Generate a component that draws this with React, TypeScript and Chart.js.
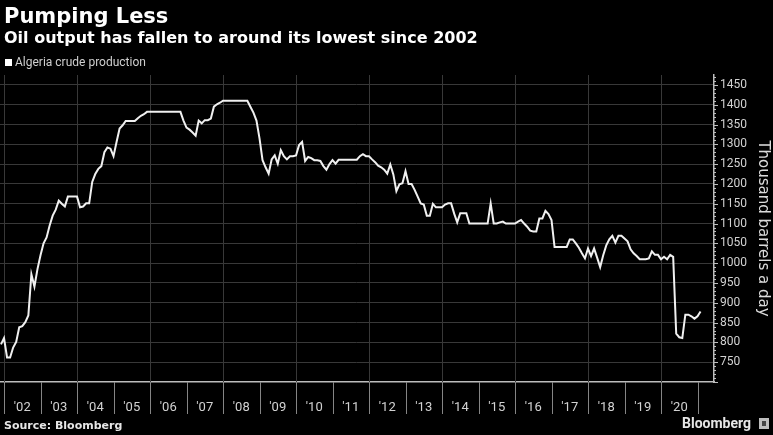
import React, { useEffect, useRef } from "react";
import { Chart, registerables } from "chart.js";

Chart.register(...registerables);

const TITLE = "Pumping Less";
const SUBTITLE = "Oil output has fallen to around its lowest since 2002";
const SERIES_NAME = "Algeria crude production";
const Y_TITLE = "Thousand barrels a day";
const SOURCE = "Source: Bloomberg";
const BRAND = "Bloomberg";

// first monthly observation: December 2001
const FIRST_YEAR = 2001;
const FIRST_MONTH = 12;

// monthly Algerian crude production, thousand barrels a day
const production = [
  795, // Dec 2001
  811, 762, 762, 787, 801, 838, 841, 851, 868, 972, 941, 985, // 2002
  1020, 1050, 1065, 1095, 1120, 1135, 1158, 1150, 1143, 1168, 1168, 1168, // 2003
  1168, 1141, 1143, 1151, 1151, 1205, 1225, 1238, 1245, 1280, 1292, 1289, // 2004
  1270, 1306, 1340, 1348, 1359, 1359, 1359, 1359, 1366, 1372, 1376, 1382, // 2005
  1382, 1382, 1382, 1382, 1382, 1382, 1382, 1382, 1382, 1382, 1382, 1360, // 2006
  1342, 1337, 1330, 1322, 1360, 1353, 1361, 1361, 1365, 1395, 1401, 1405, // 2007
  1410, 1410, 1410, 1410, 1410, 1410, 1410, 1410, 1410, 1395, 1380, 1360, // 2008
  1315, 1260, 1242, 1226, 1262, 1272, 1251, 1285, 1270, 1262, 1270, 1270, // 2009
  1272, 1298, 1306, 1258, 1268, 1265, 1260, 1260, 1258, 1245, 1236, 1250, // 2010
  1260, 1251, 1261, 1261, 1261, 1261, 1261, 1261, 1261, 1270, 1275, 1270, // 2011
  1270, 1262, 1255, 1246, 1242, 1236, 1226, 1249, 1224, 1182, 1199, 1202, // 2012
  1232, 1200, 1200, 1185, 1168, 1151, 1148, 1120, 1120, 1150, 1141, 1141, // 2013
  1141, 1148, 1151, 1151, 1125, 1103, 1126, 1126, 1126, 1100, 1100, 1100, // 2014
  1100, 1100, 1100, 1100, 1151, 1100, 1100, 1103, 1105, 1100, 1100, 1100, // 2015
  1100, 1105, 1109, 1100, 1092, 1082, 1080, 1080, 1113, 1113, 1132, 1124, // 2016
  1109, 1041, 1041, 1041, 1041, 1041, 1060, 1060, 1050, 1039, 1025, 1012, // 2017
  1037, 1018, 1037, 1014, 990, 1020, 1045, 1060, 1069, 1052, 1069, 1069, // 2018
  1062, 1055, 1035, 1025, 1018, 1010, 1010, 1010, 1012, 1030, 1021, 1021, // 2019
  1010, 1016, 1010, 1021, 1016, 822, 813, 811, 870, 870, 866, 860, // 2020
  866, 878, // 2021
];

const yearLabels = [
  2002, 2003, 2004, 2005, 2006, 2007, 2008, 2009, 2010, 2011,
  2012, 2013, 2014, 2015, 2016, 2017, 2018, 2019, 2020,
];
const yearSeparators = [
  2002, 2003, 2004, 2005, 2006, 2007, 2008, 2009, 2010, 2011,
  2012, 2013, 2014, 2015, 2016, 2017, 2018, 2019, 2020, 2021,
];
const gridYears = [2002, 2004, 2006, 2008, 2010, 2012, 2014, 2016, 2018, 2020];

const X_MIN = 2001.89;
const X_MAX = 2021.452;
const Y_MIN = 700;
const Y_MAX = 1475;
const Y_STEP = 50;
const Y_MINOR_STEP = 10;

const BG = "#000000";
const LINE = "#f0f0f0";
const GRID = "#383838";
const AXIS = "#bdbdbd";
const LABEL = "#d2d2d2";

const decorPlugin = {
  id: "decor",
  beforeDraw(chart: any) {
    const { ctx, width, height } = chart;
    ctx.save();
    ctx.fillStyle = BG;
    ctx.fillRect(0, 0, width, height);
    ctx.restore();
  },
  beforeDatasetsDraw(chart: any) {
    const { ctx, chartArea } = chart;
    const xs = chart.scales.x;
    ctx.save();
    ctx.strokeStyle = GRID;
    ctx.lineWidth = 1;
    for (const yr of gridYears) {
      const px = Math.round(xs.getPixelForValue(yr)) + 0.5;
      ctx.beginPath();
      ctx.moveTo(px, chartArea.top);
      ctx.lineTo(px, chartArea.bottom);
      ctx.stroke();
    }
    ctx.restore();
  },
  afterDraw(chart: any) {
    const { ctx, chartArea } = chart;
    const xs = chart.scales.x;
    const ys = chart.scales.y;
    ctx.save();
    // year separators under the x axis
    ctx.strokeStyle = "#858585";
    ctx.lineWidth = 1;
    for (const yr of yearSeparators) {
      const px = Math.round(xs.getPixelForValue(yr)) + 0.5;
      ctx.beginPath();
      ctx.moveTo(px, chartArea.bottom);
      ctx.lineTo(px, chartArea.bottom + 32);
      ctx.stroke();
    }
    // y-axis tick marks
    ctx.strokeStyle = AXIS;
    for (let v = Y_MIN; v <= Y_MAX; v += Y_MINOR_STEP) {
      const py = Math.round(ys.getPixelForValue(v)) + 0.5;
      const major = v % Y_STEP === 0;
      ctx.beginPath();
      ctx.moveTo(chartArea.right, py);
      ctx.lineTo(chartArea.right + (major ? 4 : 2), py);
      ctx.stroke();
    }

    // title block
    ctx.fillStyle = "#ffffff";
    ctx.textAlign = "left";
    ctx.textBaseline = "alphabetic";
    ctx.font = 'bold 21px "DejaVu Sans"';
    ctx.fillText(TITLE, 4, 23);
    ctx.font = 'bold 16px "DejaVu Sans"';
    ctx.fillText(SUBTITLE, 4, 43);

    // legend
    ctx.fillStyle = "#ffffff";
    ctx.fillRect(5, 59, 7, 7);
    ctx.fillStyle = "#cfcfcf";
    ctx.font = '12px Roboto';
    ctx.textBaseline = "middle";
    ctx.fillText(SERIES_NAME, 15, 63);

    // footer
    ctx.fillStyle = "#e6e6e6";
    ctx.font = 'bold 11px "DejaVu Sans"';
    ctx.fillText(SOURCE, 4, 426);
    ctx.font = 'bold 14px Roboto';
    ctx.textAlign = "right";
    ctx.fillText(BRAND, 751, 424);
    ctx.fillStyle = "#bdbdbd";
    ctx.fillRect(759, 418, 10, 11);
    ctx.fillStyle = "#444";
    ctx.fillRect(762, 421, 4, 5);
    ctx.restore();
  },
};

export default function App() {
  const ref = useRef<HTMLCanvasElement | null>(null);

  useEffect(() => {
    document.body.style.margin = "0";
    document.body.style.background = BG;
    const canvas = ref.current;
    if (!canvas) return;

    const points = production.map((v, i) => ({
      x: FIRST_YEAR + (FIRST_MONTH - 1 + i) / 12,
      y: v,
    }));

    const chart = new Chart(canvas, {
      type: "line",
      data: {
        datasets: [
          {
            label: SERIES_NAME,
            data: points,
            borderColor: LINE,
            borderWidth: 2,
            pointRadius: 0,
            tension: 0,
            fill: false,
          },
        ],
      },
      options: {
        animation: false,
        responsive: false,
        devicePixelRatio: 1,
        layout: { padding: { top: 75, left: 0, right: 0, bottom: 0 } },
        plugins: {
          legend: { display: false },
          title: { display: false },
          tooltip: { enabled: false },
        },
        scales: {
          x: {
            type: "linear",
            min: X_MIN,
            max: X_MAX,
            afterBuildTicks: (s: any) => {
              s.ticks = yearLabels.map((y) => ({ value: y + 0.5 }));
            },
            ticks: {
              autoSkip: false,
              maxRotation: 0,
              minRotation: 0,
              padding: 18,
              color: LABEL,
              font: { family: "Roboto", size: 13 },
              callback: (v: any) => "'" + String(Math.floor(Number(v))).slice(2),
            },
            grid: { display: false, drawTicks: false },
            border: { display: true, color: AXIS, width: 1.5 },
            afterFit: (s: any) => {
              s.height = 53;
              s.paddingLeft = 0;
              s.paddingRight = 0;
            },
          },
          y: {
            type: "linear",
            position: "right",
            min: Y_MIN,
            max: Y_MAX,
            ticks: {
              stepSize: Y_STEP,
              includeBounds: false,
              padding: 6,
              color: LABEL,
              font: { family: "Roboto", size: 12 },
              callback: (v: any) => (Number(v) === Y_MIN ? "" : String(v)),
            },
            grid: {
              drawTicks: false,
              lineWidth: 1,
              color: (c: any) =>
                c.tick && c.tick.value === Y_MIN ? "rgba(0,0,0,0)" : GRID,
            },
            border: { display: true, color: AXIS, width: 1.5 },
            title: {
              display: true,
              text: Y_TITLE,
              color: "#dcdcdc",
              font: { family: "DejaVu Sans", size: 15 },
              padding: { top: 1, bottom: 0 },
            },
            afterFit: (s: any) => {
              s.width = 59;
              s.paddingTop = 0;
              s.paddingBottom = 0;
            },
          },
        },
      },
      plugins: [decorPlugin],
    });

    return () => chart.destroy();
  }, []);

  return (
    <canvas
      ref={ref}
      width={773}
      height={435}
      style={{ display: "block", width: 773, height: 435 }}
    />
  );
}
